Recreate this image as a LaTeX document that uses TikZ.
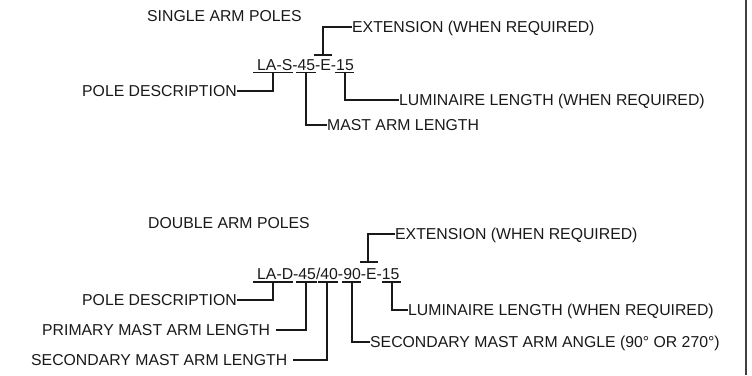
\documentclass[tikz,border=0pt]{standalone}
\usepackage{fontspec}
\setmainfont{Liberation Sans}
\begin{document}
\begin{tikzpicture}[x=1bp,y=-1bp,
  lbl/.style={inner sep=0pt, text height=11.3bp, text depth=0pt, anchor=west,
    text=black!90, font=\fontsize{15.8bp}{18bp}\selectfont},
  leader/.style={line width=1.5bp, black!90, line cap=butt, line join=miter},
  bar/.style={line width=1.7bp, black!90}]
\useasboundingbox (0,0) rectangle (752,375);
\draw[line width=1.6bp, black!75] (746,0) -- (746,375);

% ---------- single arm poles ----------
\node[lbl] (title1) at (147,16) {SINGLE ARM POLES};
\node[lbl] (code1) at (257,64.8) {LA-S-45-E-15};
\node[lbl] (ext1) at (352,27) {EXTENSION (WHEN REQUIRED)};
\node[lbl] (pd1) at (82,91) {POLE DESCRIPTION};
\node[lbl] (lum1) at (399,100) {LUMINAIRE LENGTH (WHEN REQUIRED)};
\node[lbl] (mal1) at (327,125) {MAST ARM LENGTH};

\coordinate (u1a) at (273,72.5);
\coordinate (u1b) at (306,72.5);
\coordinate (u1c) at (345,72.5);
\coordinate (b1)  at (323,55);

\draw[bar] (253,72.5) -- (293,72.5);
\draw[bar] (296,72.5) -- (316,72.5);
\draw[bar] (335,72.5) -- (354,72.5);
\draw[bar] (314,55) -- (332,55);

\draw[leader] (pd1.east) -- (pd1.east -| u1a) -- (u1a);
\draw[leader] (u1b) |- (mal1.west);
\draw[leader] (u1c) |- (lum1.west);
\draw[leader] (b1) |- (ext1.west);

% ---------- double arm poles ----------
\node[lbl] (title2) at (148,223) {DOUBLE ARM POLES};
\node[lbl] (code2) at (257,273.5) {LA-D-45/40-90-E-15};
\node[lbl] (ext2) at (395,234) {EXTENSION (WHEN REQUIRED)};
\node[lbl] (pd2) at (82,300) {POLE DESCRIPTION};
\node[lbl] (lum2) at (408,310) {LUMINAIRE LENGTH (WHEN REQUIRED)};
\node[lbl] (pm2) at (42,330) {PRIMARY MAST ARM LENGTH};
\node[lbl] (sa2) at (370,342) {SECONDARY MAST ARM ANGLE (90° OR 270°)};
\node[lbl] (sl2) at (31,360) {SECONDARY MAST ARM LENGTH};

\coordinate (u2a) at (273,282);
\coordinate (u2b) at (306,282);
\coordinate (u2c) at (327,282);
\coordinate (u2d) at (352,282);
\coordinate (u2e) at (392,282);
\coordinate (b2)  at (368,262);

\draw[bar] (253,282) -- (293,282);
\draw[bar] (296,282) -- (317,282);
\draw[bar] (318,282) -- (338,282);
\draw[bar] (342,282) -- (361,282);
\draw[bar] (382,282) -- (401,282);
\draw[bar] (360,262) -- (378,262);

\draw[leader] (pd2.east) -- (pd2.east -| u2a) -- (u2a);
\draw[leader] ([xshift=6bp]pm2.east) -- (pm2.east -| u2b) -- (u2b);
\draw[leader] ([xshift=6bp]sl2.east) -- (sl2.east -| u2c) -- (u2c);
\draw[leader] (u2d) |- (sa2.west);
\draw[leader] (u2e) |- (lum2.west);
\draw[leader] (b2) |- (ext2.west);
\end{tikzpicture}
\end{document}
